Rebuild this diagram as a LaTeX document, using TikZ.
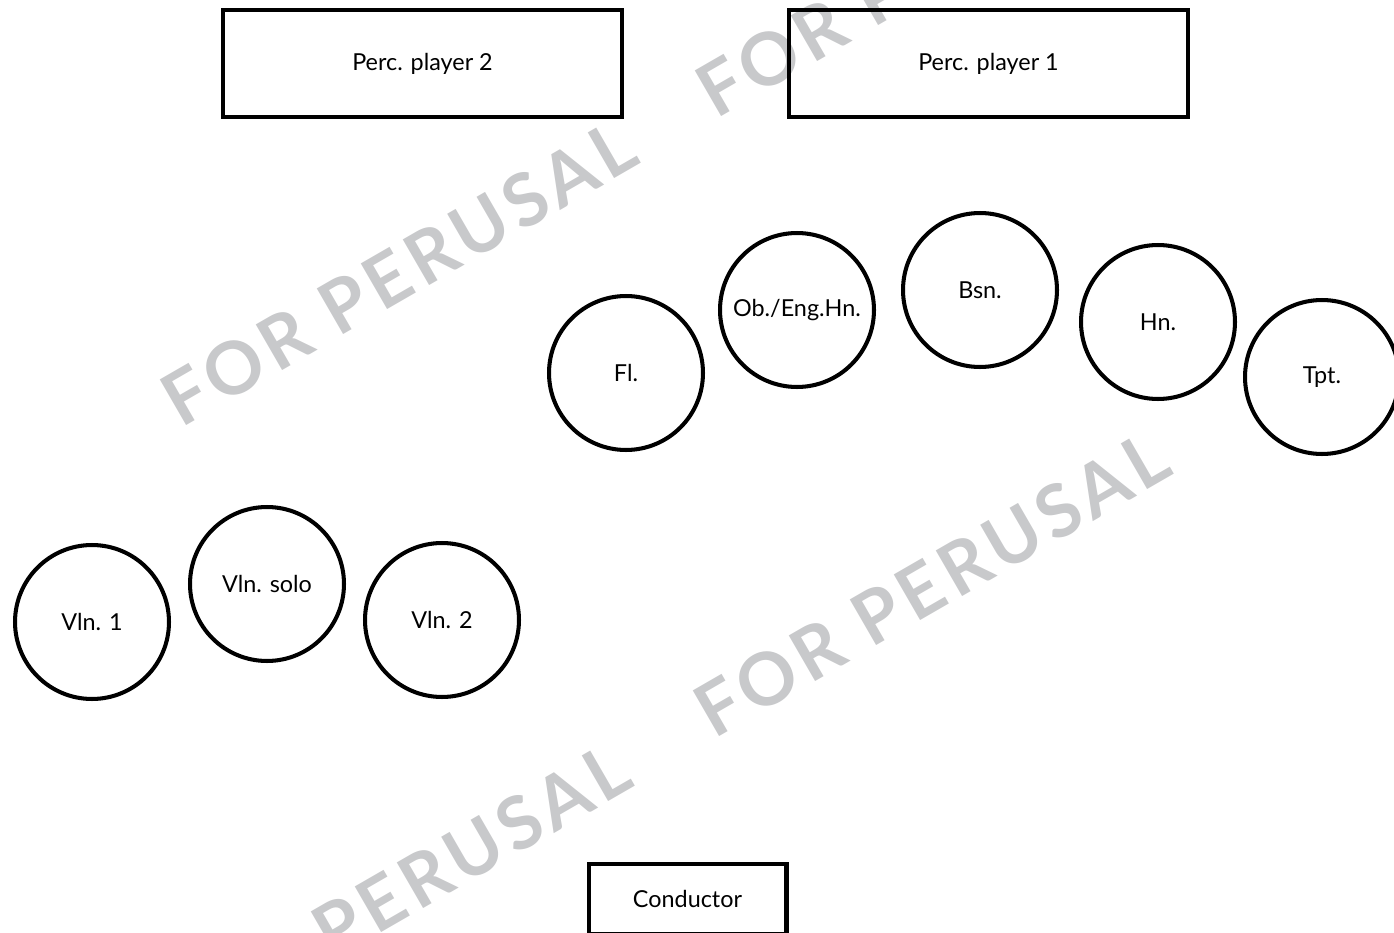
\documentclass[tikz,border=0pt]{standalone}
\usepackage{fontspec}
\setmainfont{Lato}
\newfontfamily\markfont[LetterSpace=8]{Lato}
\definecolor{markgray}{RGB}{200,201,203}

\begin{document}
\begin{tikzpicture}[x=0.02cm, y=-0.02cm,
  every node/.style={font=\fontsize{13.3}{15}\selectfont},
  seat/.style={draw, circle, line width=2.3pt, minimum size=3.08cm, inner sep=0pt},
  stand/.style={draw, rectangle, line width=2.3pt, inner sep=0pt},
  watermark/.style={text=markgray, rotate=30, anchor=base west, inner sep=0pt, font=\markfont\bfseries\fontsize{41.5}{46}\selectfont}]
\useasboundingbox (0,0) rectangle (1394,933);
\clip (0,0) rectangle (1394,933);

% Watermark
\node[watermark] (markA) at (181,429) {FOR PERUSAL};
\node[watermark] (markB) at (716,120) {FOR PERUSAL};
\node[watermark] (markC) at (714,740) {FOR PERUSAL};
\node[watermark] (markD) at (175,1052) {FOR PERUSAL};

% Percussion
\node[stand, minimum width=7.98cm, minimum height=2.14cm] (perctwo) at (422.5,63.5) {Perc. player 2};
\node[stand, minimum width=7.98cm, minimum height=2.14cm] (percone) at (988.5,63.5) {Perc. player 1};

% Winds and brass
\node[seat] (fl) at (626,373) {Fl.};
\node[seat] (ob) at (797,310) {Ob./Eng.Hn.};
\node[seat] (bsn) at (980,290) {Bsn.};
\node[seat] (hn) at (1158,322) {Hn.};
\node[seat] (tpt) at (1322,377) {Tpt.};

% Strings
\node[seat] (vlnone) at (92,622) {Vln. 1};
\node[seat] (vlnsolo) at (267,584) {Vln. solo};
\node[seat] (vlntwo) at (442,620) {Vln. 2};

% Conductor
\node[stand, minimum width=3.96cm, minimum height=1.4cm] (cond) at (687.5,899) {Conductor};
\end{tikzpicture}
\end{document}
